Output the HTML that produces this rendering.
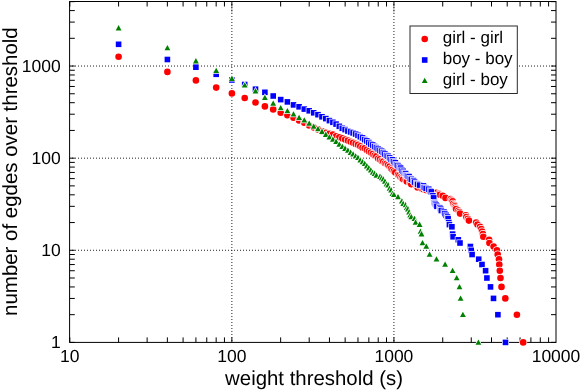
<!DOCTYPE html>
<html><head><meta charset="utf-8"><title>chart</title><style>html,body{margin:0;padding:0;background:#fff}svg{display:block;will-change:transform}</style></head><body>
<svg width="581" height="391" viewBox="0 0 581 391">
<rect width="581" height="391" fill="#fff"/>
<path d="M231.87 1V342.4M393.93 1V342.4M69 250.28H556.0M69 158.16H556.0M69 66.04H556.0" stroke="#222" stroke-width="1" stroke-dasharray="1 2" fill="none"/>
<path d="M231.87 7.0V12.5" stroke="#000" stroke-opacity="0.4" stroke-width="1" fill="none"/>
<path d="M393.93 7.0V12.5" stroke="#000" stroke-opacity="0.4" stroke-width="1" fill="none"/>
<rect x="69.6" y="1.5" width="486.40" height="340.90" fill="none" stroke="#000" stroke-width="1"/>
<path d="M69.8 342.4v-5M69.8 1.5v5M118.59 342.4v-5M118.59 1.5v5M147.13 342.4v-5M147.13 1.5v5M167.37 342.4v-5M167.37 1.5v5M183.08 342.4v-5M183.08 1.5v5M195.91 342.4v-5M195.91 1.5v5M206.76 342.4v-5M206.76 1.5v5M216.16 342.4v-5M216.16 1.5v5M224.45 342.4v-5M224.45 1.5v5M231.87 342.4v-5M231.87 1.5v5M280.65 342.4v-5M280.65 1.5v5M309.19 342.4v-5M309.19 1.5v5M329.44 342.4v-5M329.44 1.5v5M345.15 342.4v-5M345.15 1.5v5M357.98 342.4v-5M357.98 1.5v5M368.83 342.4v-5M368.83 1.5v5M378.23 342.4v-5M378.23 1.5v5M386.52 342.4v-5M386.52 1.5v5M393.93 342.4v-5M393.93 1.5v5M442.72 342.4v-5M442.72 1.5v5M471.26 342.4v-5M471.26 1.5v5M491.51 342.4v-5M491.51 1.5v5M507.21 342.4v-5M507.21 1.5v5M520.05 342.4v-5M520.05 1.5v5M530.9 342.4v-5M530.9 1.5v5M540.29 342.4v-5M540.29 1.5v5M548.58 342.4v-5M548.58 1.5v5M69.8 342.4h5M556.0 342.4h-5M69.8 314.67h5M556.0 314.67h-5M69.8 298.45h5M556.0 298.45h-5M69.8 286.94h5M556.0 286.94h-5M69.8 278.01h5M556.0 278.01h-5M69.8 270.72h5M556.0 270.72h-5M69.8 264.55h5M556.0 264.55h-5M69.8 259.21h5M556.0 259.21h-5M69.8 254.5h5M556.0 254.5h-5M69.8 250.28h5M556.0 250.28h-5M69.8 222.55h5M556.0 222.55h-5M69.8 206.33h5M556.0 206.33h-5M69.8 194.82h5M556.0 194.82h-5M69.8 185.89h5M556.0 185.89h-5M69.8 178.6h5M556.0 178.6h-5M69.8 172.43h5M556.0 172.43h-5M69.8 167.09h5M556.0 167.09h-5M69.8 162.38h5M556.0 162.38h-5M69.8 158.16h5M556.0 158.16h-5M69.8 130.43h5M556.0 130.43h-5M69.8 114.21h5M556.0 114.21h-5M69.8 102.7h5M556.0 102.7h-5M69.8 93.77h5M556.0 93.77h-5M69.8 86.48h5M556.0 86.48h-5M69.8 80.31h5M556.0 80.31h-5M69.8 74.97h5M556.0 74.97h-5M69.8 70.26h5M556.0 70.26h-5M69.8 66.04h5M556.0 66.04h-5M69.8 38.31h5M556.0 38.31h-5M69.8 22.09h5M556.0 22.09h-5M69.8 10.58h5M556.0 10.58h-5M69.8 1.65h5M556.0 1.65h-5" stroke="#000" stroke-width="1" fill="none"/>
<g fill="#f00" stroke="#fff" stroke-width="1.4" paint-order="stroke">
<circle cx="118.6" cy="56.7" r="3.3"/>
<circle cx="167.4" cy="71.9" r="3.3"/>
<circle cx="195.9" cy="80.4" r="3.3"/>
<circle cx="216.2" cy="87.6" r="3.3"/>
<circle cx="231.9" cy="93.4" r="3.3"/>
<circle cx="244.7" cy="98.0" r="3.3"/>
<circle cx="255.5" cy="102.5" r="3.3"/>
<circle cx="264.9" cy="106.4" r="3.3"/>
<circle cx="273.2" cy="109.4" r="3.3"/>
<circle cx="280.7" cy="112.8" r="3.3"/>
<circle cx="287.4" cy="115.2" r="3.3"/>
<circle cx="293.5" cy="117.8" r="3.3"/>
<circle cx="299.1" cy="120.4" r="3.3"/>
<circle cx="304.3" cy="122.8" r="3.3"/>
<circle cx="309.2" cy="125.5" r="3.3"/>
<circle cx="313.7" cy="127.5" r="3.3"/>
<circle cx="318.0" cy="129.4" r="3.3"/>
<circle cx="322.0" cy="131.2" r="3.3"/>
<circle cx="325.8" cy="132.7" r="3.3"/>
<circle cx="329.4" cy="133.8" r="3.3"/>
<circle cx="332.9" cy="134.6" r="3.3"/>
<circle cx="336.1" cy="136.2" r="3.3"/>
<circle cx="339.3" cy="137.2" r="3.3"/>
<circle cx="342.3" cy="138.4" r="3.3"/>
<circle cx="345.1" cy="139.6" r="3.3"/>
<circle cx="347.9" cy="140.6" r="3.3"/>
<circle cx="350.6" cy="141.7" r="3.3"/>
<circle cx="353.1" cy="142.7" r="3.3"/>
<circle cx="355.6" cy="143.9" r="3.3"/>
<circle cx="358.0" cy="144.7" r="3.3"/>
<circle cx="360.3" cy="146.2" r="3.3"/>
<circle cx="362.5" cy="147.7" r="3.3"/>
<circle cx="364.7" cy="148.3" r="3.3"/>
<circle cx="366.8" cy="149.9" r="3.3"/>
<circle cx="368.8" cy="151.2" r="3.3"/>
<circle cx="370.8" cy="152.6" r="3.3"/>
<circle cx="372.7" cy="154.0" r="3.3"/>
<circle cx="374.6" cy="155.5" r="3.3"/>
<circle cx="376.4" cy="156.2" r="3.3"/>
<circle cx="378.2" cy="158.6" r="3.3"/>
<circle cx="380.0" cy="159.4" r="3.3"/>
<circle cx="381.7" cy="161.1" r="3.3"/>
<circle cx="383.3" cy="161.5" r="3.3"/>
<circle cx="384.9" cy="163.3" r="3.3"/>
<circle cx="386.5" cy="163.7" r="3.3"/>
<circle cx="388.1" cy="165.1" r="3.3"/>
<circle cx="389.6" cy="166.6" r="3.3"/>
<circle cx="391.1" cy="168.6" r="3.3"/>
<circle cx="392.5" cy="169.7" r="3.3"/>
<circle cx="393.9" cy="171.3" r="3.3"/>
<circle cx="395.3" cy="172.4" r="3.3"/>
<circle cx="398.0" cy="174.8" r="3.3"/>
<circle cx="399.4" cy="175.4" r="3.3"/>
<circle cx="400.6" cy="177.3" r="3.3"/>
<circle cx="401.9" cy="178.6" r="3.3"/>
<circle cx="403.2" cy="179.3" r="3.3"/>
<circle cx="405.6" cy="180.0" r="3.3"/>
<circle cx="406.8" cy="181.4" r="3.3"/>
<circle cx="410.2" cy="182.8" r="3.3"/>
<circle cx="411.3" cy="184.3" r="3.3"/>
<circle cx="416.6" cy="185.9" r="3.3"/>
<circle cx="417.6" cy="187.5" r="3.3"/>
<circle cx="421.5" cy="188.4" r="3.3"/>
<circle cx="423.4" cy="189.2" r="3.3"/>
<circle cx="426.1" cy="190.1" r="3.3"/>
<circle cx="430.4" cy="191.9" r="3.3"/>
<circle cx="436.1" cy="192.9" r="3.3"/>
<circle cx="439.1" cy="193.8" r="3.3"/>
<circle cx="439.8" cy="194.8" r="3.3"/>
<circle cx="442.7" cy="195.8" r="3.3"/>
<circle cx="445.5" cy="197.9" r="3.3"/>
<circle cx="450.7" cy="199.0" r="3.3"/>
<circle cx="451.9" cy="200.2" r="3.3"/>
<circle cx="452.6" cy="201.3" r="3.3"/>
<circle cx="453.2" cy="203.7" r="3.3"/>
<circle cx="454.4" cy="205.0" r="3.3"/>
<circle cx="455.0" cy="206.3" r="3.3"/>
<circle cx="455.6" cy="207.7" r="3.3"/>
<circle cx="456.1" cy="209.1" r="3.3"/>
<circle cx="458.4" cy="210.5" r="3.3"/>
<circle cx="459.5" cy="212.1" r="3.3"/>
<circle cx="460.1" cy="213.6" r="3.3"/>
<circle cx="465.9" cy="215.3" r="3.3"/>
<circle cx="466.4" cy="217.0" r="3.3"/>
<circle cx="467.9" cy="218.7" r="3.3"/>
<circle cx="468.9" cy="220.6" r="3.3"/>
<circle cx="476.2" cy="222.5" r="3.3"/>
<circle cx="477.5" cy="224.6" r="3.3"/>
<circle cx="480.1" cy="226.8" r="3.3"/>
<circle cx="481.3" cy="229.1" r="3.3"/>
<circle cx="482.1" cy="231.5" r="3.3"/>
<circle cx="482.9" cy="234.1" r="3.3"/>
<circle cx="483.3" cy="236.8" r="3.3"/>
<circle cx="489.1" cy="239.8" r="3.3"/>
<circle cx="489.4" cy="243.0" r="3.3"/>
<circle cx="493.6" cy="246.5" r="3.3"/>
<circle cx="496.9" cy="250.3" r="3.3"/>
<circle cx="497.7" cy="254.5" r="3.3"/>
<circle cx="499.0" cy="259.2" r="3.3"/>
<circle cx="499.3" cy="264.5" r="3.3"/>
<circle cx="499.8" cy="270.7" r="3.3"/>
<circle cx="500.5" cy="278.0" r="3.3"/>
<circle cx="501.5" cy="286.9" r="3.3"/>
<circle cx="505.3" cy="298.4" r="3.3"/>
<circle cx="516.9" cy="314.7" r="3.3"/>
<circle cx="523.2" cy="342.4" r="3.3"/>
</g>
<g fill="#00f" stroke="#fff" stroke-width="1.4" paint-order="stroke">
<rect x="115.8" y="41.5" width="5.6" height="5.6"/>
<rect x="164.6" y="56.7" width="5.6" height="5.6"/>
<rect x="193.1" y="64.4" width="5.6" height="5.6"/>
<rect x="213.4" y="71.5" width="5.6" height="5.6"/>
<rect x="229.1" y="77.2" width="5.6" height="5.6"/>
<rect x="241.9" y="81.7" width="5.6" height="5.6"/>
<rect x="252.7" y="86.4" width="5.6" height="5.6"/>
<rect x="262.1" y="89.5" width="5.6" height="5.6"/>
<rect x="270.4" y="93.2" width="5.6" height="5.6"/>
<rect x="277.9" y="96.8" width="5.6" height="5.6"/>
<rect x="284.6" y="99.1" width="5.6" height="5.6"/>
<rect x="290.7" y="102.1" width="5.6" height="5.6"/>
<rect x="296.3" y="104.0" width="5.6" height="5.6"/>
<rect x="301.5" y="106.3" width="5.6" height="5.6"/>
<rect x="306.4" y="108.0" width="5.6" height="5.6"/>
<rect x="310.9" y="110.0" width="5.6" height="5.6"/>
<rect x="315.2" y="111.9" width="5.6" height="5.6"/>
<rect x="319.2" y="114.0" width="5.6" height="5.6"/>
<rect x="323.0" y="115.8" width="5.6" height="5.6"/>
<rect x="326.6" y="117.8" width="5.6" height="5.6"/>
<rect x="330.1" y="119.5" width="5.6" height="5.6"/>
<rect x="333.3" y="121.3" width="5.6" height="5.6"/>
<rect x="336.5" y="123.5" width="5.6" height="5.6"/>
<rect x="339.5" y="125.5" width="5.6" height="5.6"/>
<rect x="342.3" y="126.8" width="5.6" height="5.6"/>
<rect x="345.1" y="128.2" width="5.6" height="5.6"/>
<rect x="347.8" y="129.1" width="5.6" height="5.6"/>
<rect x="350.3" y="130.1" width="5.6" height="5.6"/>
<rect x="352.8" y="131.2" width="5.6" height="5.6"/>
<rect x="355.2" y="132.5" width="5.6" height="5.6"/>
<rect x="357.5" y="133.9" width="5.6" height="5.6"/>
<rect x="359.7" y="135.1" width="5.6" height="5.6"/>
<rect x="361.9" y="136.8" width="5.6" height="5.6"/>
<rect x="364.0" y="138.1" width="5.6" height="5.6"/>
<rect x="366.0" y="139.7" width="5.6" height="5.6"/>
<rect x="368.0" y="141.3" width="5.6" height="5.6"/>
<rect x="369.9" y="142.2" width="5.6" height="5.6"/>
<rect x="371.8" y="143.7" width="5.6" height="5.6"/>
<rect x="373.6" y="144.9" width="5.6" height="5.6"/>
<rect x="375.4" y="146.1" width="5.6" height="5.6"/>
<rect x="377.2" y="147.4" width="5.6" height="5.6"/>
<rect x="378.9" y="148.4" width="5.6" height="5.6"/>
<rect x="380.5" y="149.8" width="5.6" height="5.6"/>
<rect x="382.1" y="151.2" width="5.6" height="5.6"/>
<rect x="383.7" y="152.7" width="5.6" height="5.6"/>
<rect x="385.3" y="153.4" width="5.6" height="5.6"/>
<rect x="386.8" y="155.0" width="5.6" height="5.6"/>
<rect x="388.3" y="156.6" width="5.6" height="5.6"/>
<rect x="389.7" y="157.0" width="5.6" height="5.6"/>
<rect x="391.1" y="158.7" width="5.6" height="5.6"/>
<rect x="392.5" y="160.0" width="5.6" height="5.6"/>
<rect x="393.9" y="161.9" width="5.6" height="5.6"/>
<rect x="395.2" y="162.8" width="5.6" height="5.6"/>
<rect x="396.6" y="164.3" width="5.6" height="5.6"/>
<rect x="397.8" y="165.3" width="5.6" height="5.6"/>
<rect x="399.1" y="167.4" width="5.6" height="5.6"/>
<rect x="400.4" y="168.5" width="5.6" height="5.6"/>
<rect x="401.6" y="170.2" width="5.6" height="5.6"/>
<rect x="402.8" y="170.8" width="5.6" height="5.6"/>
<rect x="404.0" y="172.6" width="5.6" height="5.6"/>
<rect x="405.1" y="173.2" width="5.6" height="5.6"/>
<rect x="406.3" y="173.8" width="5.6" height="5.6"/>
<rect x="407.4" y="175.8" width="5.6" height="5.6"/>
<rect x="408.5" y="176.5" width="5.6" height="5.6"/>
<rect x="410.7" y="177.8" width="5.6" height="5.6"/>
<rect x="411.7" y="179.3" width="5.6" height="5.6"/>
<rect x="413.8" y="180.8" width="5.6" height="5.6"/>
<rect x="414.8" y="181.5" width="5.6" height="5.6"/>
<rect x="416.8" y="182.3" width="5.6" height="5.6"/>
<rect x="420.6" y="183.1" width="5.6" height="5.6"/>
<rect x="421.5" y="184.7" width="5.6" height="5.6"/>
<rect x="423.3" y="185.6" width="5.6" height="5.6"/>
<rect x="426.0" y="186.4" width="5.6" height="5.6"/>
<rect x="427.6" y="188.2" width="5.6" height="5.6"/>
<rect x="428.5" y="189.1" width="5.6" height="5.6"/>
<rect x="430.1" y="193.0" width="5.6" height="5.6"/>
<rect x="430.9" y="195.1" width="5.6" height="5.6"/>
<rect x="431.7" y="199.7" width="5.6" height="5.6"/>
<rect x="432.5" y="200.9" width="5.6" height="5.6"/>
<rect x="433.3" y="202.2" width="5.6" height="5.6"/>
<rect x="434.1" y="203.5" width="5.6" height="5.6"/>
<rect x="437.0" y="204.9" width="5.6" height="5.6"/>
<rect x="437.8" y="206.3" width="5.6" height="5.6"/>
<rect x="438.5" y="207.7" width="5.6" height="5.6"/>
<rect x="441.3" y="209.3" width="5.6" height="5.6"/>
<rect x="442.0" y="210.8" width="5.6" height="5.6"/>
<rect x="443.4" y="212.5" width="5.6" height="5.6"/>
<rect x="444.7" y="214.2" width="5.6" height="5.6"/>
<rect x="445.3" y="215.9" width="5.6" height="5.6"/>
<rect x="446.0" y="219.7" width="5.6" height="5.6"/>
<rect x="446.6" y="221.8" width="5.6" height="5.6"/>
<rect x="449.1" y="224.0" width="5.6" height="5.6"/>
<rect x="449.8" y="231.3" width="5.6" height="5.6"/>
<rect x="450.3" y="234.0" width="5.6" height="5.6"/>
<rect x="455.5" y="237.0" width="5.6" height="5.6"/>
<rect x="457.2" y="240.2" width="5.6" height="5.6"/>
<rect x="467.6" y="243.7" width="5.6" height="5.6"/>
<rect x="468.4" y="247.5" width="5.6" height="5.6"/>
<rect x="469.3" y="251.7" width="5.6" height="5.6"/>
<rect x="475.9" y="256.4" width="5.6" height="5.6"/>
<rect x="479.2" y="261.7" width="5.6" height="5.6"/>
<rect x="482.8" y="267.9" width="5.6" height="5.6"/>
<rect x="484.1" y="275.2" width="5.6" height="5.6"/>
<rect x="487.7" y="284.1" width="5.6" height="5.6"/>
<rect x="490.7" y="295.6" width="5.6" height="5.6"/>
<rect x="495.1" y="311.9" width="5.6" height="5.6"/>
<rect x="502.7" y="339.6" width="5.6" height="5.6"/>
</g>
<g fill="#008000" stroke="#fff" stroke-width="1.4" paint-order="stroke">
<path d="M115.7 30.4h5.8L118.6 25.1Z"/>
<path d="M164.5 50.2h5.8L167.4 44.9Z"/>
<path d="M193.0 63.4h5.8L195.9 58.1Z"/>
<path d="M213.3 73.0h5.8L216.2 67.7Z"/>
<path d="M229.0 80.9h5.8L231.9 75.6Z"/>
<path d="M241.8 87.5h5.8L244.7 82.2Z"/>
<path d="M252.6 93.4h5.8L255.5 88.1Z"/>
<path d="M262.0 100.1h5.8L264.9 94.8Z"/>
<path d="M270.3 105.7h5.8L273.2 100.4Z"/>
<path d="M277.8 110.2h5.8L280.7 104.9Z"/>
<path d="M284.5 113.3h5.8L287.4 108.0Z"/>
<path d="M290.6 116.6h5.8L293.5 111.3Z"/>
<path d="M296.2 120.1h5.8L299.1 114.8Z"/>
<path d="M301.4 122.5h5.8L304.3 117.2Z"/>
<path d="M306.3 125.8h5.8L309.2 120.5Z"/>
<path d="M310.8 128.7h5.8L313.7 123.4Z"/>
<path d="M315.1 131.2h5.8L318.0 125.9Z"/>
<path d="M319.1 133.9h5.8L322.0 128.6Z"/>
<path d="M322.9 136.9h5.8L325.8 131.6Z"/>
<path d="M326.5 139.5h5.8L329.4 134.2Z"/>
<path d="M330.0 141.7h5.8L332.9 136.4Z"/>
<path d="M333.2 144.0h5.8L336.1 138.7Z"/>
<path d="M336.4 146.7h5.8L339.3 141.4Z"/>
<path d="M339.4 149.1h5.8L342.3 143.8Z"/>
<path d="M342.2 150.9h5.8L345.1 145.6Z"/>
<path d="M345.0 152.8h5.8L347.9 147.5Z"/>
<path d="M347.7 154.9h5.8L350.6 149.6Z"/>
<path d="M350.2 156.6h5.8L353.1 151.3Z"/>
<path d="M352.7 158.5h5.8L355.6 153.2Z"/>
<path d="M355.1 160.1h5.8L358.0 154.8Z"/>
<path d="M357.4 162.5h5.8L360.3 157.2Z"/>
<path d="M359.6 164.2h5.8L362.5 158.9Z"/>
<path d="M361.8 166.0h5.8L364.7 160.7Z"/>
<path d="M363.9 168.4h5.8L366.8 163.1Z"/>
<path d="M365.9 170.4h5.8L368.8 165.1Z"/>
<path d="M367.9 172.5h5.8L370.8 167.2Z"/>
<path d="M369.8 174.7h5.8L372.7 169.4Z"/>
<path d="M371.7 175.9h5.8L374.6 170.6Z"/>
<path d="M373.5 177.7h5.8L376.4 172.4Z"/>
<path d="M377.1 178.9h5.8L380.0 173.6Z"/>
<path d="M378.8 180.2h5.8L381.7 174.9Z"/>
<path d="M380.4 181.6h5.8L383.3 176.3Z"/>
<path d="M382.0 183.7h5.8L384.9 178.4Z"/>
<path d="M383.6 186.6h5.8L386.5 181.3Z"/>
<path d="M385.2 187.4h5.8L388.1 182.1Z"/>
<path d="M386.7 190.7h5.8L389.6 185.4Z"/>
<path d="M388.2 192.4h5.8L391.1 187.1Z"/>
<path d="M389.6 196.1h5.8L392.5 190.8Z"/>
<path d="M391.0 197.1h5.8L393.9 191.8Z"/>
<path d="M395.1 199.2h5.8L398.0 193.9Z"/>
<path d="M399.0 203.6h5.8L401.9 198.3Z"/>
<path d="M400.3 206.0h5.8L403.2 200.7Z"/>
<path d="M402.7 207.3h5.8L405.6 202.0Z"/>
<path d="M403.9 210.0h5.8L406.8 204.7Z"/>
<path d="M405.0 211.4h5.8L407.9 206.1Z"/>
<path d="M406.2 214.4h5.8L409.1 209.1Z"/>
<path d="M407.3 217.6h5.8L410.2 212.3Z"/>
<path d="M408.4 219.3h5.8L411.3 214.0Z"/>
<path d="M411.6 221.0h5.8L414.5 215.7Z"/>
<path d="M412.7 224.8h5.8L415.6 219.5Z"/>
<path d="M416.7 226.9h5.8L419.6 221.6Z"/>
<path d="M417.7 233.8h5.8L420.6 228.5Z"/>
<path d="M418.6 236.4h5.8L421.5 231.1Z"/>
<path d="M419.6 245.3h5.8L422.5 240.0Z"/>
<path d="M423.4 248.8h5.8L426.3 243.5Z"/>
<path d="M426.7 256.8h5.8L429.6 251.5Z"/>
<path d="M433.6 261.5h5.8L436.5 256.2Z"/>
<path d="M442.2 266.8h5.8L445.1 261.5Z"/>
<path d="M449.7 273.0h5.8L452.6 267.7Z"/>
<path d="M453.8 280.3h5.8L456.7 275.0Z"/>
<path d="M456.6 289.2h5.8L459.5 283.9Z"/>
<path d="M457.7 300.7h5.8L460.6 295.4Z"/>
<path d="M460.0 317.0h5.8L462.9 311.7Z"/>
<path d="M475.5 344.7h5.8L478.4 339.4Z"/>
</g>
<rect x="410" y="26" width="107.3" height="67.5" fill="#fff" stroke="#2a2a2a" stroke-width="1"/>
<g fill="#f00"><circle cx="424.7" cy="39.0" r="3.3"/></g>
<g fill="#00f"><rect x="421.9" y="57.2" width="5.6" height="5.6"/></g>
<g fill="#008000"><path d="M421.8 83.1h5.8L424.7 77.8Z"/></g>
<g font-family="Liberation Sans, sans-serif" font-size="17.5" fill="#000" style="text-rendering:geometricPrecision">
<text x="442.7" y="42.9" font-size="17">girl - girl</text>
<text x="442.7" y="63.8" font-size="17">boy - boy</text>
<text x="442.7" y="84.8" font-size="17">girl - boy</text>
<text x="69.8" y="362.3" text-anchor="middle">10</text>
<text x="231.9" y="362.3" text-anchor="middle">100</text>
<text x="393.9" y="362.3" text-anchor="middle">1000</text>
<text x="556.0" y="362.3" text-anchor="middle">10000</text>
<text x="60.7" y="348.4" text-anchor="end">1</text>
<text x="60.7" y="256.3" text-anchor="end">10</text>
<text x="60.7" y="164.2" text-anchor="end">100</text>
<text x="60.7" y="72.0" text-anchor="end">1000</text>
</g>
<g font-family="Liberation Sans, sans-serif" font-size="20.46" fill="#000" style="text-rendering:geometricPrecision">
<text x="314.05" y="384.9" text-anchor="middle" font-size="20.4">weight threshold (s)</text>
<text transform="translate(16.5,171.6) rotate(-90)" text-anchor="middle">number of egdes over threshold</text>
</g>
</svg>
</body></html>
